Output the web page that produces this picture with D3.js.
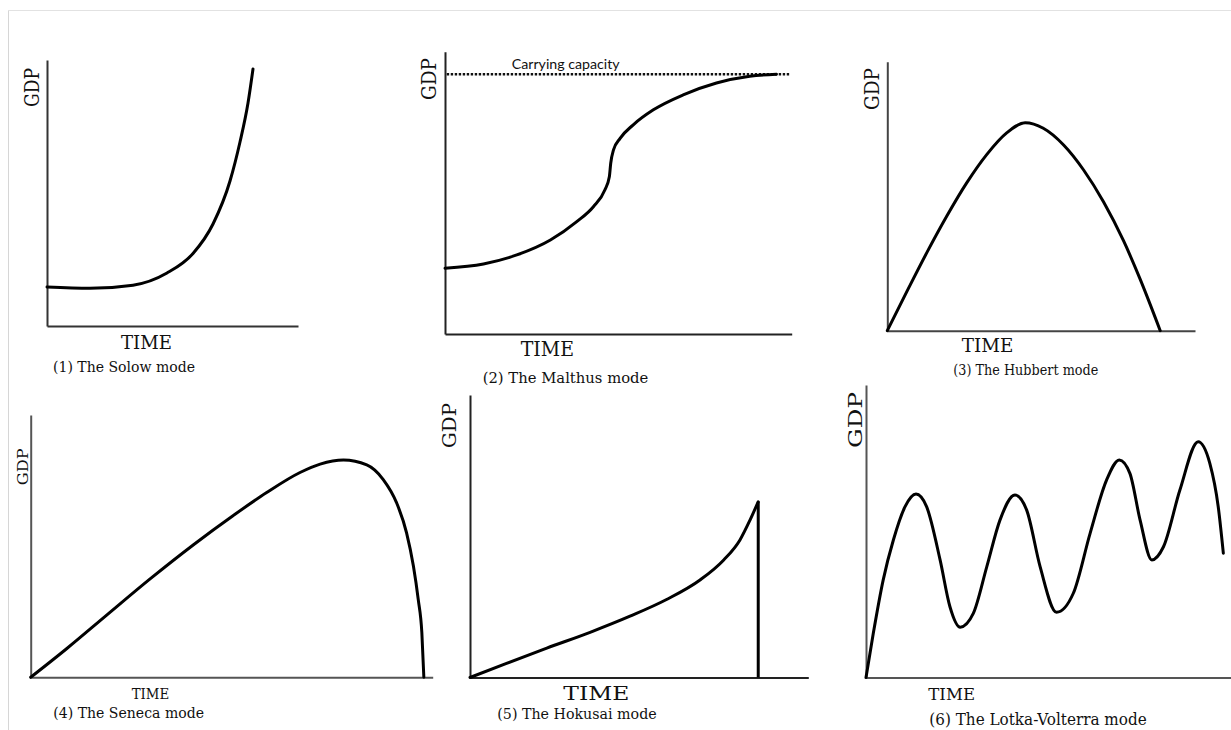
<!DOCTYPE html>
<html>
<head>
<meta charset="utf-8">
<script src="https://cdn.jsdelivr.net/npm/d3@7"></script>
<style>
  html, body { margin: 0; padding: 0; background: #fff; }
  svg { display: block; }
</style>
</head>
<body>
<svg id="chart" width="1231" height="730"></svg>
<script>
// ---------------- DATA (in % of each axis) ----------------
const solowTime = [0, 17.13, 34.26, 47.81, 58.17, 66.14, 72.91, 76.89, 80.08, 82.07];
const solowGDP  = [14.66, 14.17, 15.34, 19.92, 27.26, 38.35, 54.51, 69.17, 83.83, 96.62];

const malthusTime = [0, 11.1, 20.7, 30.4, 38.0, 42.8, 46.1, 47.4, 47.8, 48.6, 50.5, 54.3, 60.1, 68.7, 78.3, 87.9, 95.6];
const malthusGDP  = [23.3, 24.8, 28.0, 33.3, 39.8, 45.1, 51.0, 55.7, 60.5, 65.2, 69.3, 74.1, 79.4, 84.7, 88.9, 91.3, 92.0];
const carryingCapacity = 92.0;
const carryingRange = [0.5, 99.5];

const hubbertTime = [0, 6.3, 12.8, 19.3, 25.8, 32.3, 38.8, 44.8, 50.7, 57.3, 63.8, 70.3, 76.8, 82.2, 88.7];
const hubbertGDP  = [0, 14.42, 28.92, 42.53, 54.94, 65.46, 73.53, 77.29, 75.24, 69.03, 59.74, 47.84, 33.35, 19.07, 0];

const senecaTime = [0, 9.0, 18.9, 29.7, 40.5, 50.4, 58.7, 67.0, 72.0, 77.8, 83.6, 87.7, 91.0, 93.5, 95.2, 96.4, 97.3, 97.8];
const senecaGDP  = [0, 10.98, 23.71, 37.51, 50.55, 61.69, 70.45, 78.08, 81.28, 82.85, 81.0, 75.4, 66.6, 55.1, 42.4, 29.7, 17.0, 0];

const hokusaiTime = [0, 10.8, 22.7, 35.5, 47.3, 58.1, 68.1, 75.0, 79.8, 82.8, 85.2];
const hokusaiGDP  = [0, 5.0, 10.4, 16.0, 21.7, 27.6, 34.6, 41.6, 48.7, 55.8, 62.2];
const hokusaiCollapseTime = [85.2, 85.2];
const hokusaiCollapseGDP  = [62.2, 0];

const lotkaTime = [0, 2.0, 4.7, 7.5, 10.7, 13.7, 16.6, 20.3, 23.0, 25.8, 29.4, 33.1, 36.7, 40.8, 44.0, 47.7, 52.2, 56.8, 61.4, 65.9, 69.4, 72.3, 75.1, 78.3, 81.5, 86.0, 91.0, 94.2, 96.5, 97.9];
const lotkaGDP  = [0, 15.1, 33.3, 47.0, 58.4, 62.7, 58.4, 40.2, 24.2, 17.2, 21.9, 37.9, 53.8, 62.4, 57.3, 37.9, 22.3, 28.8, 49.3, 67.5, 74.4, 69.8, 53.8, 40.2, 44.7, 64.1, 80.6, 73.2, 58.4, 42.5];

const axisLabelY = "GDP";
const axisLabelX = "TIME";
const captions = ["(1) The Solow mode", "(2) The Malthus mode", "(3) The Hubbert mode",
                  "(4) The Seneca mode", "(5) The Hokusai mode", "(6) The Lotka-Volterra mode"];
const carryingLabel = "Carrying capacity";

// ---------------- LAYOUT ----------------
const smooth = d3.curveMonotoneX;
const panels = [
  { box: {x0: 47,    x1: 298,   yb: 326,   yt: 60},   axisColor: "#333",
    series: [{t: solowTime, v: solowGDP, curve: smooth}],
    gdp: {bx: 39.3, cy: 87.5, len: 39, size: 20},
    time: {x: 121, y: 348.5, len: 51, size: 19},
    cap: {x: 53, y: 371.5, len: 142, size: 14.5} },
  { box: {x0: 445,   x1: 791.7, yb: 334,   yt: 51.7}, axisColor: "#222",
    series: [{t: malthusTime, v: malthusGDP, curve: smooth}],
    gdp: {bx: 436, cy: 79, len: 42, size: 20},
    time: {x: 520.7, y: 356, len: 53.3, size: 19.5},
    cap: {x: 482.7, y: 382.7, len: 165.6, size: 15.5} },
  { box: {x0: 887.3, x1: 1195,  yb: 330.7, yt: 61.7}, axisColor: "#444",
    series: [{t: hubbertTime, v: hubbertGDP, curve: smooth}],
    gdp: {bx: 879.3, cy: 89, len: 42, size: 20},
    time: {x: 961.7, y: 352, len: 51.6, size: 19},
    cap: {x: 953.3, y: 375, len: 145, size: 14.5} },
  { box: {x0: 30.7,  x1: 432.7, yb: 677.3, yt: 415},  axisColor: "#555",
    series: [{t: senecaTime, v: senecaGDP, curve: smooth}],
    gdp: {bx: 28.3, cy: 466.7, len: 37, size: 14},
    time: {x: 131.7, y: 699.3, len: 37.6, size: 15},
    cap: {x: 53.3, y: 718.3, len: 150.7, size: 15.5} },
  { box: {x0: 470,   x1: 808.3, yb: 677.5, yt: 395},  axisColor: "#222",
    series: [{t: hokusaiTime, v: hokusaiGDP, curve: smooth},
             {t: hokusaiCollapseTime, v: hokusaiCollapseGDP, curve: d3.curveLinear}],
    gdp: {bx: 456, cy: 425.5, len: 45, size: 18},
    time: {x: 563.3, y: 700, len: 66, size: 18},
    cap: {x: 497.3, y: 719.3, len: 159.4, size: 15} },
  { box: {x0: 866,   x1: 1231,  yb: 677.5, yt: 385},  axisColor: "#555",
    series: [{t: lotkaTime, v: lotkaGDP, curve: smooth}],
    gdp: {bx: 861.7, cy: 420, len: 56, size: 18},
    time: {x: 928.3, y: 700, len: 46.7, size: 17},
    cap: {x: 929.3, y: 725, len: 217.4, size: 16} }
];

const svg = d3.select("#chart");
const serif = "'DejaVu Serif', 'Liberation Serif', serif";

// faint frame of the original figure
svg.append("line").attr("x1", 8.5).attr("x2", 8.5).attr("y1", 10).attr("y2", 730)
  .attr("stroke", "#d6d6d6").attr("stroke-width", 1);
svg.append("line").attr("x1", 8).attr("x2", 1231).attr("y1", 10.5).attr("y2", 10.5)
  .attr("stroke", "#e2e2e2").attr("stroke-width", 1);

panels.forEach((p, i) => {
  const b = p.box;
  const x = d3.scaleLinear().domain([0, 100]).range([b.x0, b.x1]);
  const y = d3.scaleLinear().domain([0, 100]).range([b.yb, b.yt]);
  const g = svg.append("g");

  const xAxis = g.append("g").attr("transform", `translate(0,${b.yb})`)
    .call(d3.axisBottom(x).ticks(0).tickSizeOuter(0));
  const yAxis = g.append("g").attr("transform", `translate(${b.x0},0)`)
    .call(d3.axisLeft(y).ticks(0).tickSizeOuter(0));
  [xAxis, yAxis].forEach(a => a.select(".domain")
    .attr("stroke", p.axisColor).attr("stroke-width", 2));

  if (i === 1) {
    g.append("path")
      .datum(carryingRange.map(t => [t, carryingCapacity]))
      .attr("d", d3.line().x(d => x(d[0])).y(d => y(d[1])))
      .attr("fill", "none").attr("stroke", "#111").attr("stroke-width", 2.5)
      .attr("stroke-dasharray", "2.4,1.6");
    g.append("text").attr("x", 511.7).attr("y", 69)
      .attr("font-family", "Lato, 'Liberation Sans', sans-serif").attr("font-size", 14)
      .attr("fill", "#111")
      .attr("textLength", 108).attr("lengthAdjust", "spacingAndGlyphs")
      .text(carryingLabel);
  }

  p.series.forEach(s => {
    const pts = s.t.map((t, k) => [t, s.v[k]]);
    const line = d3.line().x(d => x(d[0])).y(d => y(d[1])).curve(s.curve);
    g.append("path").datum(pts).attr("d", line)
      .attr("fill", "none").attr("stroke", "#000").attr("stroke-width", 3)
      .attr("stroke-linejoin", "round")
      .attr("stroke-linecap", s.curve === d3.curveLinear ? "butt" : "round");
  });

  g.append("text")
    .attr("transform", `translate(${p.gdp.bx},${p.gdp.cy}) rotate(-90)`)
    .attr("text-anchor", "middle")
    .attr("font-family", serif).attr("font-size", p.gdp.size).attr("fill", "#111")
    .attr("textLength", p.gdp.len).attr("lengthAdjust", "spacingAndGlyphs")
    .text(axisLabelY);

  g.append("text").attr("x", p.time.x).attr("y", p.time.y)
    .attr("font-family", serif).attr("font-size", p.time.size).attr("fill", "#111")
    .attr("textLength", p.time.len).attr("lengthAdjust", "spacingAndGlyphs")
    .text(axisLabelX);

  g.append("text").attr("x", p.cap.x).attr("y", p.cap.y)
    .attr("font-family", serif).attr("font-size", p.cap.size).attr("fill", "#111")
    .attr("textLength", p.cap.len).attr("lengthAdjust", "spacingAndGlyphs")
    .text(captions[i]);
});
</script>
</body>
</html>
